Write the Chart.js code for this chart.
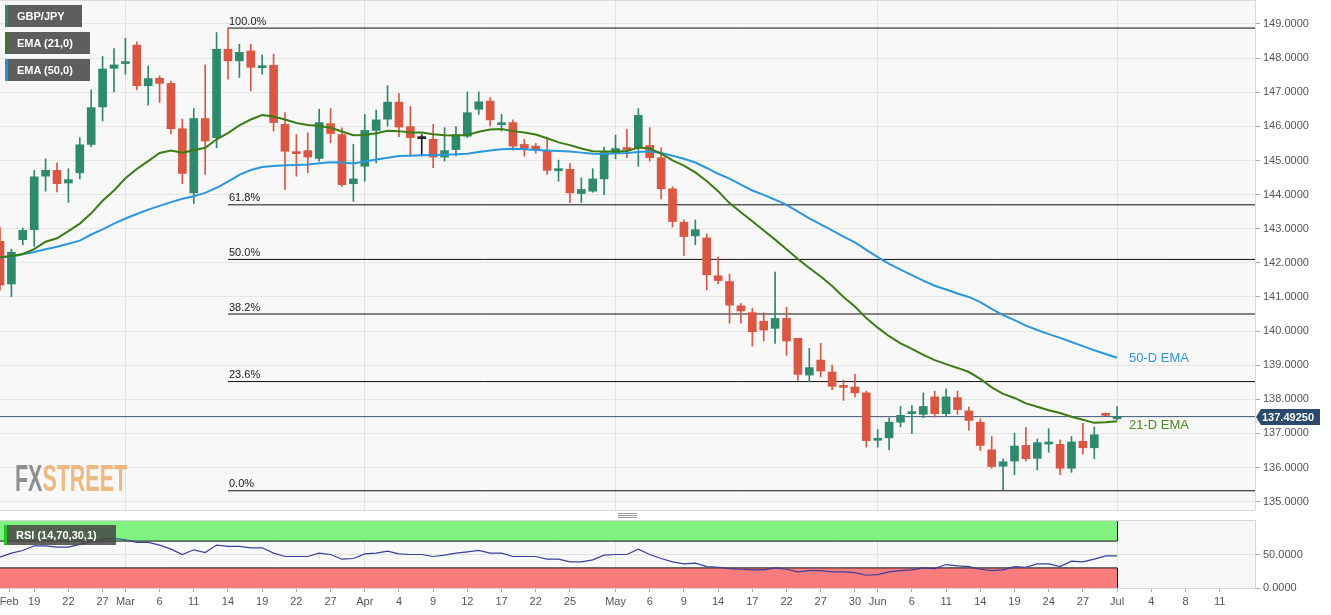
<!DOCTYPE html>
<html>
<head>
<meta charset="utf-8">
<title>GBP/JPY</title>
<script src="https://cdn.jsdelivr.net/npm/chart.js@4.4.1/dist/chart.umd.min.js"></script>
<style>
  html, body { margin: 0; padding: 0; background: #fff; }
  body { width: 1331px; height: 615px; position: relative; overflow: hidden; font-family: "Liberation Sans", Arial, sans-serif; }
  #mainChart { position: absolute; left: 0; top: 0; }
  #rsiChart { position: absolute; left: 0; top: 515px; }
  .tag { position: absolute; left: 5px; height: 22px; line-height: 22px; padding-left: 9px; box-sizing: border-box;
         background: rgba(82,82,82,0.93); color: #fff; font-size: 11px; font-weight: bold; border-left: 3px solid; }
  #fxs { position: absolute; left: 15px; top: 460px; font: bold 37px/37px "Liberation Sans", Arial, sans-serif;
         transform: scaleX(0.58); transform-origin: left top; white-space: nowrap; }
  #fxs .fx { color: #8f8f8f; }
  #fxs .st { color: #efb87f; }
  #grip { position: absolute; left: 618px; top: 513px; width: 19px; height: 1px; background: #999; box-shadow: 0 2px 0 #999, 0 4px 0 #999; }
</style>
</head>
<body>
<canvas id="mainChart" width="1331" height="511"></canvas>
<canvas id="rsiChart" width="1331" height="100"></canvas>

<div class="tag" style="top:5px;width:77px;border-color:#2e8a6c">GBP/JPY</div>
<div class="tag" style="top:32px;width:85px;border-color:#3a7d12">EMA (21,0)</div>
<div class="tag" style="top:59px;width:85px;border-color:#1f95e0">EMA (50,0)</div>
<div class="tag" style="top:525px;width:112px;height:20px;line-height:20px;left:4px;border-color:#22c822;background:rgba(70,70,70,0.85)">RSI (14,70,30,1)</div>
<div id="fxs"><span class="fx">FX</span><span class="st">STREET</span></div>
<div id="grip"></div>

<script>
const FONT = '"Liberation Sans", Arial, sans-serif';
Chart.defaults.font.family = FONT;

// daily candles, one per bar index (Feb 14 .. Jul 1)
const opens  = [142.63,141.38,142.68,142.97,144.54,144.71,144.34,144.64,145.47,146.57,
                147.70,147.84,148.38,147.19,147.41,147.26,145.93,144.05,146.23,145.67,
                148.26,147.92,148.21,147.72,147.79,146.06,145.25,145.29,145.06,146.08,
                145.76,144.32,144.83,145.88,146.21,146.71,145.99,145.64,145.62,145.10,
                145.32,145.71,146.50,146.74,146.05,146.11,145.47,145.42,145.29,144.70,
                144.74,144.03,144.10,144.46,145.23,145.37,145.37,145.44,145.08,144.17,
                143.19,142.79,142.73,141.62,141.45,140.74,140.54,140.29,140.08,140.37,
                139.79,138.71,139.15,138.80,138.38,138.36,138.19,136.80,136.87,137.33,
                137.58,137.56,138.07,137.58,138.05,137.66,137.33,136.52,136.04,136.19,
                136.65,136.27,136.69,136.68,135.98,136.77,136.58,137.57,137.43];
const highs  = [143.03,142.40,143.02,144.71,145.05,144.93,144.76,145.67,147.07,148.05,
                148.28,148.58,148.48,147.77,147.48,147.33,146.21,146.52,147.80,148.75,
                148.88,148.41,148.41,148.09,148.12,146.40,145.76,145.81,146.50,146.52,
                145.96,145.47,146.35,146.48,147.19,146.97,146.58,145.76,146.06,145.96,
                145.99,147.01,147.01,146.84,146.35,146.19,145.62,145.50,145.62,145.01,
                144.91,144.49,144.76,145.39,145.74,145.91,146.52,145.96,145.37,144.23,
                143.26,143.26,142.85,142.17,141.67,140.81,140.67,140.54,141.73,140.70,
                139.79,139.49,139.64,139.00,138.56,138.73,138.24,137.11,137.46,137.79,
                137.82,138.19,138.24,138.31,138.24,137.77,137.43,136.91,136.25,137.01,
                137.17,136.84,137.14,136.81,136.91,137.30,137.19,137.60,137.79];
const lows   = [141.20,141.01,142.53,142.48,144.10,144.08,143.77,144.46,145.40,146.16,
                147.01,147.53,147.07,146.62,146.70,145.78,144.32,143.74,144.59,145.37,
                147.38,147.43,147.04,147.53,145.86,144.15,144.54,144.64,144.98,145.52,
                144.24,143.80,144.39,144.93,146.01,145.70,145.15,145.13,144.79,144.98,
                145.13,145.67,146.35,146.01,145.86,145.30,145.13,145.21,144.59,144.39,
                143.76,143.77,144.07,144.00,145.05,145.08,144.83,144.98,143.87,143.05,
                142.21,142.53,141.21,141.38,140.23,140.23,139.56,139.71,139.64,139.29,
                138.56,138.51,138.66,138.28,137.97,138.07,136.60,136.60,136.52,137.19,
                136.99,137.46,137.48,137.50,137.56,137.09,136.50,135.98,135.34,135.79,
                136.19,135.93,136.45,135.79,135.86,136.40,136.26,137.52,137.40];
const closes = [141.35,142.31,142.95,144.52,144.71,144.32,144.44,145.46,146.55,147.68,
                147.80,147.88,147.19,147.40,147.26,145.93,144.62,146.23,145.57,148.26,
                147.92,148.17,147.73,147.77,146.11,145.27,145.20,145.10,146.11,145.79,
                144.29,144.46,145.88,146.19,146.71,145.98,145.67,145.64,145.10,145.29,
                145.76,146.40,146.72,146.19,146.08,145.42,145.35,145.32,144.71,144.73,
                144.05,144.15,144.46,145.23,145.35,145.32,146.32,145.08,144.17,143.21,
                142.77,142.97,141.65,141.48,140.76,140.59,139.98,140.03,140.37,139.71,
                138.73,138.93,138.83,138.38,138.35,138.19,136.79,136.83,137.33,137.53,
                137.62,137.79,137.58,138.07,137.70,137.38,136.65,136.03,136.17,136.63,
                136.26,136.73,136.71,135.98,136.75,136.58,136.96,137.53,137.49];

const ema21 = [142.16,142.20,142.26,142.40,142.62,142.72,142.93,143.15,143.45,143.82,
               144.12,144.48,144.75,144.98,145.22,145.29,145.23,145.30,145.37,145.62,
               145.80,146.03,146.20,146.33,146.29,146.20,146.10,146.04,146.01,145.96,
               145.85,145.74,145.75,145.80,145.87,145.86,145.82,145.82,145.77,145.74,
               145.73,145.75,145.84,145.91,145.92,145.86,145.82,145.76,145.65,145.53,
               145.45,145.35,145.27,145.26,145.26,145.28,145.38,145.35,145.20,145.00,
               144.85,144.65,144.40,144.10,143.75,143.48,143.22,142.95,142.68,142.40,
               142.11,141.85,141.60,141.32,141.00,140.72,140.38,140.10,139.85,139.64,
               139.48,139.30,139.15,139.03,138.92,138.80,138.60,138.35,138.16,138.04,
               137.88,137.78,137.68,137.60,137.49,137.40,137.31,137.33,137.36];
const ema50 = [142.16,142.18,142.25,142.32,142.40,142.47,142.56,142.65,142.83,142.98,
               143.15,143.30,143.43,143.56,143.67,143.78,143.88,143.95,144.05,144.20,
               144.38,144.58,144.72,144.81,144.84,144.86,144.87,144.88,144.92,144.95,
               144.94,144.91,144.97,145.03,145.08,145.13,145.14,145.15,145.16,145.17,
               145.18,145.20,145.25,145.29,145.33,145.34,145.33,145.31,145.29,145.28,
               145.26,145.23,145.20,145.19,145.21,145.22,145.25,145.27,145.22,145.14,
               145.05,144.94,144.78,144.61,144.47,144.29,144.12,143.99,143.85,143.70,
               143.50,143.30,143.13,142.95,142.77,142.60,142.38,142.17,141.97,141.80,
               141.64,141.48,141.33,141.22,141.10,141.00,140.85,140.65,140.47,140.32,
               140.16,140.03,139.91,139.80,139.68,139.56,139.44,139.33,139.22];

const rsi14 = [46,52,56,63,63,61,61,65,69,73, 74,72,68,68,64,58,50,57,53,64,
               62,62,60,60,52,47,47,47,52,50, 43,44,51,52,55,51,50,50,47,49,
               52,54,56,52,52,47,47,47,43,43, 39,39,42,49,50,50,58,50,44,39,
               36,37,32,31,29,28,27,27,30,28, 24,26,26,24,24,23,19,20,24,26,
               27,30,29,35,33,32,28,26,27,32, 31,36,36,32,40,39,43,48,48];

const fibLevels = [148.88, 143.70, 142.10, 140.50, 138.52, 135.32];
const fibLabels = ['100.0%', '61.8%', '50.0%', '38.2%', '23.6%', '0.0%'];
const fibStart = 20;
const lastPrice = 137.4925;

const tickPos  = [0.8,3,6,9,11,14,17,20,23,26,29,32,35,38,41,44,47,50,54,57,60,63,66,69,72,75,77,80,83,86,89,92,95,98,101,104,107];
const tickText = ['Feb','19','22','27','Mar','6','11','14','19','22','27','Apr','4','9','12','17','22','25','May','6','9','14','17','22','27','30','Jun','6','11','14','19','24','27','Jul','4','8','11'];
const priceTicks = [135,136,137,138,139,140,141,142,143,144,145,146,147,148,149];
const rsiTicks = [0, 50];
const rsiBands = [30, 70];

const xMax = 110.1;
const yMin = 134.727, yMax = 149.703;
const lastIdx = closes.length - 1;

const GREEN = '#2e8a6c', RED = '#da5843', DOJI = '#222';
const candleColor = closes.map((c, i) => c > opens[i] ? GREEN : (c < opens[i] ? RED : DOJI));
const isMonthTick = v => { const k = tickPos.indexOf(v); return k > 0 && isNaN(Number(tickText[k])); };
const gridX = ctx => (ctx.tick && isMonthTick(ctx.tick.value)) ? '#e2e2e2' : 'rgba(0,0,0,0)';

const mainDecor = {
    id: 'mainDecor',
    beforeDraw(chart) {
        const { ctx, chartArea: a } = chart;
        ctx.save();
        ctx.fillStyle = '#f8f8f8';
        ctx.fillRect(a.left, a.top, a.right - a.left, a.bottom - a.top);
        ctx.restore();
    },
    afterDatasetsDraw(chart) {
        const { ctx, chartArea: a, scales: { x, y } } = chart;
        ctx.save();
        ctx.font = '11px ' + FONT;
        ctx.fillStyle = '#1a1a1a';
        ctx.textBaseline = 'bottom';
        fibLevels.forEach((v, i) => ctx.fillText(fibLabels[i], x.getPixelForValue(fibStart) + 1, y.getPixelForValue(v) - 1));

        ctx.font = '13px ' + FONT;
        ctx.textBaseline = 'middle';
        ctx.fillStyle = '#2a98dc';
        ctx.fillText('50-D EMA', x.getPixelForValue(lastIdx) + 12, y.getPixelForValue(ema50[lastIdx]) + 1);
        ctx.fillStyle = '#4b8a1e';
        ctx.fillText('21-D EMA', x.getPixelForValue(lastIdx) + 12, y.getPixelForValue(ema21[lastIdx]) + 4);

        ctx.strokeStyle = '#dadada';
        ctx.lineWidth = 1;
        ctx.strokeRect(a.left - 1, a.top + 0.5, a.right - a.left + 1.5, a.bottom - a.top - 1);
        ctx.restore();
    },
    afterDraw(chart) {
        const { ctx, chartArea: a, scales: { y } } = chart;
        const yp = Math.round(y.getPixelForValue(lastPrice));
        const x0 = a.right;
        ctx.save();
        ctx.fillStyle = '#2b4b6d';
        ctx.beginPath();
        ctx.moveTo(x0 + 1, yp);
        ctx.lineTo(x0 + 6, yp - 8);
        ctx.lineTo(x0 + 65, yp - 8);
        ctx.lineTo(x0 + 65, yp + 8);
        ctx.lineTo(x0 + 6, yp + 8);
        ctx.closePath();
        ctx.fill();
        ctx.fillStyle = '#fff';
        ctx.font = 'bold 11px ' + FONT;
        ctx.textBaseline = 'middle';
        ctx.fillText(lastPrice.toFixed(5), x0 + 7, yp + 1);
        ctx.restore();
    }
};

const lineDs = (data, color, width, order) => ({
    type: 'line', data, borderColor: color, borderWidth: width, pointRadius: 0, tension: 0, fill: false, order
});

new Chart(document.getElementById('mainChart'), {
    type: 'bar',
    data: {
        datasets: [
            lineDs(ema21.map((v, i) => ({ x: i, y: v })), '#3a7d12', 2, 0),
            lineDs(ema50.map((v, i) => ({ x: i, y: v })), '#2a98dc', 2, 0),
            {
                data: closes.map((c, i) => ({ x: i, y: [opens[i], c] })),
                backgroundColor: candleColor, borderWidth: 0, barThickness: 8, minBarLength: 2, grouped: false, order: 1
            },
            {
                data: lows.map((l, i) => ({ x: i, y: [l, highs[i]] })),
                backgroundColor: candleColor, borderWidth: 0, barThickness: 1, grouped: false, order: 2
            },
            lineDs([{ x: 0, y: lastPrice }, { x: xMax, y: lastPrice }], '#3b5673', 1, 3),
            ...fibLevels.map(v => lineDs([{ x: fibStart, y: v }, { x: xMax, y: v }], '#111', 1, 4))
        ]
    },
    options: {
        responsive: false, animation: false, events: [],
        layout: { padding: 0 },
        plugins: { legend: { display: false }, tooltip: { enabled: false } },
        scales: {
            x: {
                type: 'linear', min: 0, max: xMax, offset: false,
                afterBuildTicks: s => { s.ticks = tickPos.map(v => ({ value: v })); },
                ticks: { display: false },
                grid: { offset: false, drawTicks: false, color: gridX },
                border: { display: false },
                afterFit: s => { s.height = 0; s.paddingLeft = 0; s.paddingRight = 0; }
            },
            y: {
                position: 'right', min: yMin, max: yMax,
                afterBuildTicks: s => { s.ticks = priceTicks.map(v => ({ value: v })); },
                ticks: { callback: v => Number(v).toFixed(4), color: '#555', font: { size: 11 }, padding: 3 },
                grid: { color: '#e6e6e6', tickLength: 5, tickColor: '#aaa' },
                border: { color: '#dadada' },
                afterFit: s => { s.width = 76; s.paddingTop = 0; s.paddingBottom = 0; }
            }
        }
    },
    plugins: [mainDecor]
});

const rsiDecor = {
    id: 'rsiDecor',
    beforeDraw(chart) {
        const { ctx, chartArea: a } = chart;
        ctx.save();
        ctx.fillStyle = '#f8f8f8';
        ctx.fillRect(a.left, a.top, a.right - a.left, a.bottom - a.top);
        ctx.restore();
    },
    afterDatasetsDraw(chart) {
        const { ctx, chartArea: a, scales: { x, y } } = chart;
        const xp = Math.round(x.getPixelForValue(lastIdx)) + 0.5;
        ctx.save();
        ctx.strokeStyle = '#111';
        ctx.lineWidth = 1;
        ctx.beginPath();
        ctx.moveTo(xp, y.getPixelForValue(100)); ctx.lineTo(xp, y.getPixelForValue(rsiBands[1]));
        ctx.moveTo(xp, y.getPixelForValue(rsiBands[0])); ctx.lineTo(xp, y.getPixelForValue(0));
        ctx.stroke();
        ctx.strokeStyle = '#d6d6d6';
        ctx.strokeRect(a.left - 1, a.top - 0.5, a.right - a.left + 1.5, a.bottom - a.top + 1);
        ctx.restore();
    }
};

new Chart(document.getElementById('rsiChart'), {
    type: 'line',
    data: {
        datasets: [
            { data: rsi14.map((v, i) => ({ x: i, y: v })), borderColor: '#3a3f9e', borderWidth: 1.2, pointRadius: 0, tension: 0, fill: false },
            { data: [{ x: 0, y: 100 }, { x: lastIdx, y: 100 }], borderWidth: 0, pointRadius: 0, fill: false },
            { data: [{ x: 0, y: rsiBands[1] }, { x: lastIdx, y: rsiBands[1] }], borderColor: '#111', borderWidth: 1, pointRadius: 0,
              fill: '-1', backgroundColor: '#80f280' },
            { data: [{ x: 0, y: rsiBands[0] }, { x: lastIdx, y: rsiBands[0] }], borderColor: '#111', borderWidth: 1, pointRadius: 0,
              fill: { value: 0 }, backgroundColor: '#f87c7c' }
        ]
    },
    options: {
        responsive: false, animation: false, events: [],
        layout: { padding: { top: 6, left: 0, right: 0, bottom: 0 } },
        plugins: { legend: { display: false }, tooltip: { enabled: false } },
        scales: {
            x: {
                type: 'linear', min: 0, max: xMax,
                afterBuildTicks: s => { s.ticks = tickPos.map(v => ({ value: v })); },
                ticks: { callback: (v, i) => tickText[i], autoSkip: false, maxRotation: 0, color: '#555', font: { size: 11 }, padding: 3 },
                grid: { color: gridX, tickLength: 4, tickColor: '#aaa' },
                border: { color: '#d6d6d6' },
                afterFit: s => { s.height = 27; s.paddingLeft = 0; s.paddingRight = 0; }
            },
            y: {
                position: 'right', min: 0, max: 100,
                afterBuildTicks: s => { s.ticks = rsiTicks.map(v => ({ value: v })); },
                ticks: { callback: v => Number(v).toFixed(4), color: '#555', font: { size: 11 }, padding: 3 },
                grid: { color: '#e2e2e2', tickLength: 5, tickColor: '#aaa' },
                border: { color: '#d6d6d6' },
                afterFit: s => { s.width = 76; s.paddingTop = 0; s.paddingBottom = 0; }
            }
        }
    },
    plugins: [rsiDecor]
});
</script>
</body>
</html>
